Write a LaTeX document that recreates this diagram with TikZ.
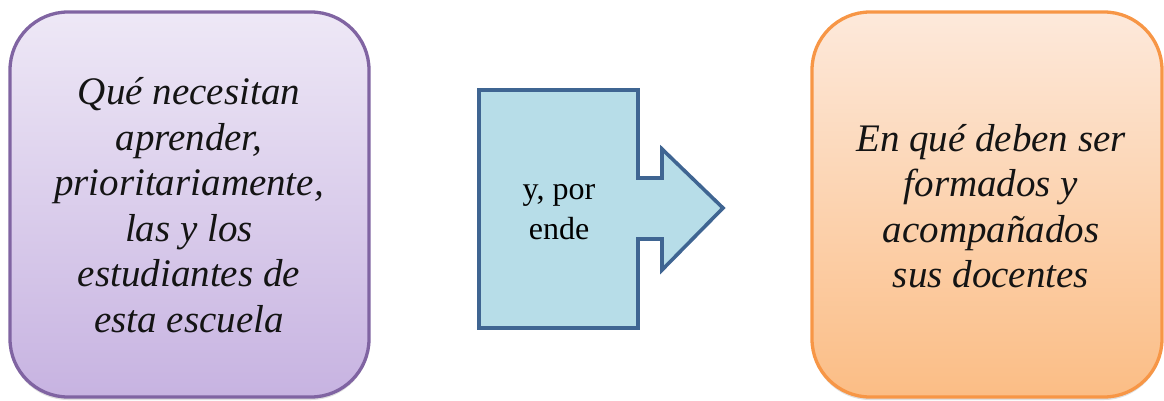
\documentclass[tikz,border=0pt]{standalone}
\usepackage{fontspec}
\setmainfont{Liberation Serif}
\usetikzlibrary{shadows}
\definecolor{purpleedge}{HTML}{8064A2}
\definecolor{purpletop}{HTML}{EEE8F6}
\definecolor{purplebot}{HTML}{C7B3E1}
\definecolor{orangeedge}{HTML}{F79646}
\definecolor{orangetop}{HTML}{FDE9DB}
\definecolor{orangebot}{HTML}{FBBD85}
\definecolor{blueedge}{HTML}{3F6592}
\definecolor{bluefill}{HTML}{B7DDE8}
\tikzset{
  bigbox/.style={line width=3.3pt, rounded corners=58pt,
    drop shadow={opacity=0.25, shadow xshift=0pt, shadow yshift=-3pt}},
  bigtext/.style={align=center, font=\fontsize{39}{45.5}\selectfont\itshape, text=black!92, inner sep=0pt},
  smalltext/.style={align=center, font=\fontsize{32}{40}\selectfont, text=black, inner sep=0pt},
}
\begin{document}
\begin{tikzpicture}[x=1pt,y=1pt]
\useasboundingbox (0,0) rectangle (1164,400);
% left box
\path[bigbox, draw=purpleedge, top color=purpletop, bottom color=purplebot]
  (10,3) rectangle (369,388);
\node[bigtext] (left) at (189,195) {Qué necesitan\\aprender,\\prioritariamente,\\las y los\\estudiantes de\\esta escuela};
% right box
\path[bigbox, draw=orangeedge, top color=orangetop, bottom color=orangebot]
  (812,3) rectangle (1162,388);
\node[bigtext] (right) at (991,194) {En qué deben ser\\formados y\\acompañados\\sus docentes};
% arrow callout
\draw[line width=3.6pt, draw=blueedge, fill=bluefill, line join=miter]
  (479,310) -- (638,310) -- (638,222) -- (662,222) -- (662,251) -- (723,192)
  -- (662,130) -- (662,161) -- (638,161) -- (638,72) -- (479,72) -- cycle;
\node[smalltext] (mid) at (559,188) {y, por\\ende};
\end{tikzpicture}
\end{document}
